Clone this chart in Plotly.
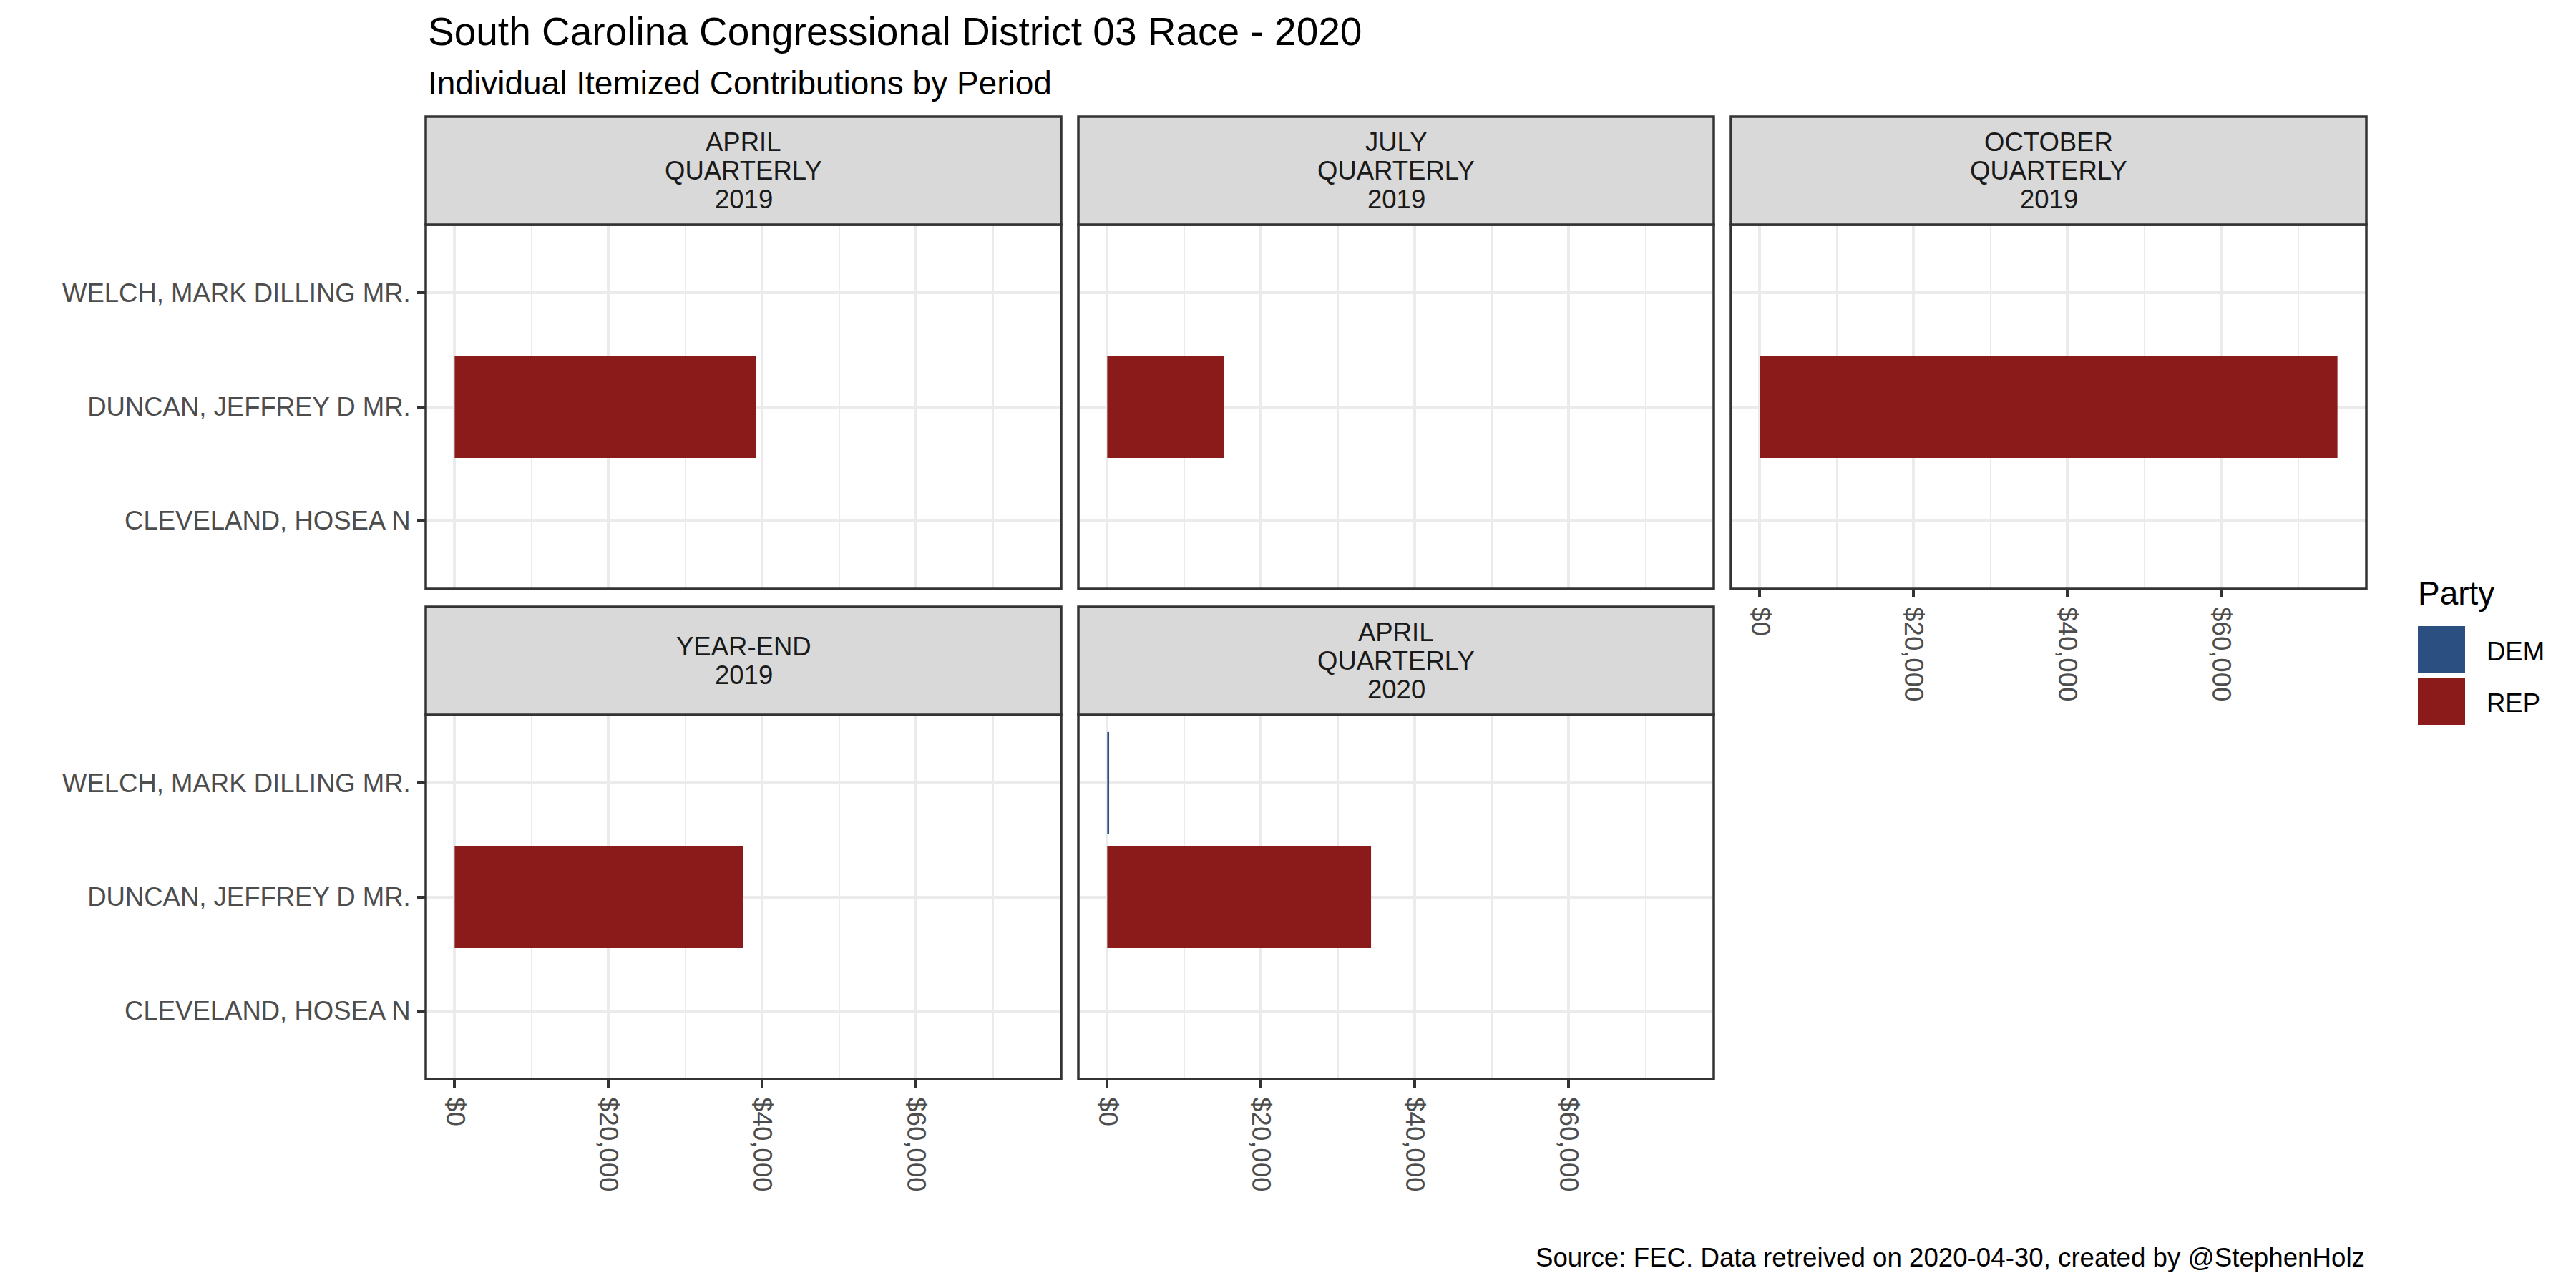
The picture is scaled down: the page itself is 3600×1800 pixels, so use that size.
import plotly.graph_objects as go

# ---------------- data ----------------
periods = ["APRIL QUARTERLY 2019", "JULY QUARTERLY 2019", "OCTOBER QUARTERLY 2019",
           "YEAR-END 2019", "APRIL QUARTERLY 2020"]
candidates = ["CLEVELAND, HOSEA N", "DUNCAN, JEFFREY D MR.", "WELCH, MARK DILLING MR."]
parties = ["DEM", "REP"]
party_colors = ["#2C4F81", "#8B1A1A"]

rec_period = ["APRIL QUARTERLY 2019", "JULY QUARTERLY 2019", "OCTOBER QUARTERLY 2019",
              "YEAR-END 2019", "APRIL QUARTERLY 2020", "APRIL QUARTERLY 2020"]
rec_candidate = ["DUNCAN, JEFFREY D MR.", "DUNCAN, JEFFREY D MR.", "DUNCAN, JEFFREY D MR.",
                 "DUNCAN, JEFFREY D MR.", "DUNCAN, JEFFREY D MR.", "WELCH, MARK DILLING MR."]
rec_party = ["REP", "REP", "REP", "REP", "REP", "DEM"]
rec_amount = [39200, 15200, 75100, 37500, 34300, 250]

x_tick_vals = [0, 20000, 40000, 60000]
x_tick_text = ["$0", "$20,000", "$40,000", "$60,000"]

title = "South Carolina Congressional District 03 Race - 2020"
subtitle = "Individual Itemized Contributions by Period"
caption = "Source: FEC. Data retreived on 2020-04-30, created by @StephenHolz"
legend_title = "Party"

# ---------------- layout geometry (pixels) ----------------
W, H = 3600, 1800
FONT = "Liberation Sans, Arial, sans-serif"
col_left = [595, 1507, 2419]
panel_w = 888
row_strip_top = [163, 848]
strip_h = 151
panel_h = 509
BORDER = "#333333"
GRID = "#EBEBEB"
AXTXT = "#4D4D4D"
SMALL = 36.5


def fx(px):
    return px / W


def fy(py):
    return 1 - py / H


positions = [(0, 0), (0, 1), (0, 2), (1, 0), (1, 1)]
show_x_labels = [False, False, True, True, True]

max_amt = max(rec_amount)
x_range = [-0.05 * max_amt, 1.05 * max_amt]

fig = go.Figure()
shapes = []
annotations = []
layout_axes = {}

for i, (period, (r, c)) in enumerate(zip(periods, positions)):
    ax_id = "" if i == 0 else str(i + 1)
    left = col_left[c]
    right = left + panel_w
    strip_top = row_strip_top[r]
    ptop = strip_top + strip_h
    pbot = ptop + panel_h

    for party, color in zip(parties, party_colors):
        xs = [a for p, a, pa in zip(rec_period, rec_amount, rec_party) if p == period and pa == party]
        ys = [cd for p, cd, pa in zip(rec_period, rec_candidate, rec_party) if p == period and pa == party]
        if not xs:
            continue
        fig.add_trace(go.Bar(
            x=xs, y=ys, orientation="h", width=0.9,
            marker=dict(color=color, line=dict(width=0)),
            xaxis="x" + ax_id, yaxis="y" + ax_id, showlegend=False, name=party,
        ))

    show_xl = show_x_labels[i]
    show_yl = (c == 0)
    layout_axes["xaxis" + ax_id] = dict(
        domain=[fx(left), fx(right)], anchor="y" + ax_id, range=x_range,
        tickmode="array", tickvals=x_tick_vals, ticktext=x_tick_text,
        showgrid=True, gridcolor=GRID, gridwidth=3.5, zeroline=False, showline=False,
        minor=dict(tickmode="array", tickvals=[v + 10000 for v in x_tick_vals],
                   showgrid=True, gridcolor=GRID, gridwidth=2, ticks=""),
        ticks="outside" if show_xl else "", ticklen=11, tickwidth=3.5, tickcolor=BORDER,
        showticklabels=show_xl, tickangle=90, ticklabelstandoff=6,
        tickfont=dict(family=FONT, size=SMALL, color=AXTXT),
        fixedrange=True,
    )
    layout_axes["yaxis" + ax_id] = dict(
        domain=[fy(pbot), fy(ptop)], anchor="x" + ax_id, type="category",
        categoryorder="array", categoryarray=candidates, range=[-0.6, len(candidates) - 0.4],
        showgrid=True, gridcolor=GRID, gridwidth=3.5, zeroline=False, showline=False,
        ticks="outside" if show_yl else "", ticklen=11, tickwidth=3.5, tickcolor=BORDER,
        showticklabels=show_yl, ticklabelstandoff=2,
        tickfont=dict(family=FONT, size=SMALL, color=AXTXT),
        fixedrange=True,
    )

    # panel border
    shapes.append(dict(type="rect", xref="paper", yref="paper",
                       x0=fx(left), x1=fx(right), y0=fy(pbot), y1=fy(ptop),
                       line=dict(color=BORDER, width=3.5), fillcolor="rgba(0,0,0,0)", layer="above"))
    # strip
    shapes.append(dict(type="rect", xref="paper", yref="paper",
                       x0=fx(left), x1=fx(right), y0=fy(ptop), y1=fy(strip_top),
                       line=dict(color=BORDER, width=3.5), fillcolor="#D9D9D9", layer="above"))
    lines = period.split(" ")
    n = len(lines)
    cy = strip_top + strip_h / 2
    for k, ln in enumerate(lines):
        yy = cy + (k - (n - 1) / 2) * 40
        annotations.append(dict(text=ln, xref="paper", yref="paper", x=fx((left + right) / 2), y=fy(yy),
                                xanchor="center", yanchor="middle", showarrow=False,
                                font=dict(family=FONT, size=SMALL, color="#1A1A1A")))

# titles
annotations.append(dict(text=title, xref="paper", yref="paper", x=fx(596), y=fy(44),
                        xanchor="left", yanchor="middle", showarrow=False,
                        font=dict(family=FONT, size=55, color="black")))
annotations.append(dict(text=subtitle, xref="paper", yref="paper", x=fx(596), y=fy(116),
                        xanchor="left", yanchor="middle", showarrow=False,
                        font=dict(family=FONT, size=46, color="black")))
annotations.append(dict(text=caption, xref="paper", yref="paper", x=fx(3307), y=fy(1757),
                        xanchor="right", yanchor="middle", showarrow=False,
                        font=dict(family=FONT, size=36.7, color="black")))

# legend (manual, ggplot style)
annotations.append(dict(text=legend_title, xref="paper", yref="paper", x=fx(3377), y=fy(829),
                        xanchor="left", yanchor="middle", showarrow=False,
                        font=dict(family=FONT, size=46, color="black")))
key_top = 875
key_size = 66
key_gap = 6
for j, (party, color) in enumerate(zip(parties, party_colors)):
    t = key_top + j * (key_size + key_gap)
    shapes.append(dict(type="rect", xref="paper", yref="paper",
                       x0=fx(3379), x1=fx(3379 + key_size), y0=fy(t + key_size), y1=fy(t),
                       line=dict(width=0), fillcolor=color, layer="above"))
    annotations.append(dict(text=party, xref="paper", yref="paper", x=fx(3473), y=fy(t + key_size / 2 + 2),
                            xanchor="left", yanchor="middle", showarrow=False,
                            font=dict(family=FONT, size=SMALL, color="black")))

fig.update_layout(
    width=W, height=H,
    margin=dict(l=0, r=0, t=0, b=0),
    paper_bgcolor="white", plot_bgcolor="white",
    showlegend=False, barmode="overlay",
    shapes=shapes, annotations=annotations,
    font=dict(family=FONT),
    **layout_axes,
)

fig.write_html("out.html", config=dict(displayModeBar=False),
               post_script="document.body.style.margin='0px';")
